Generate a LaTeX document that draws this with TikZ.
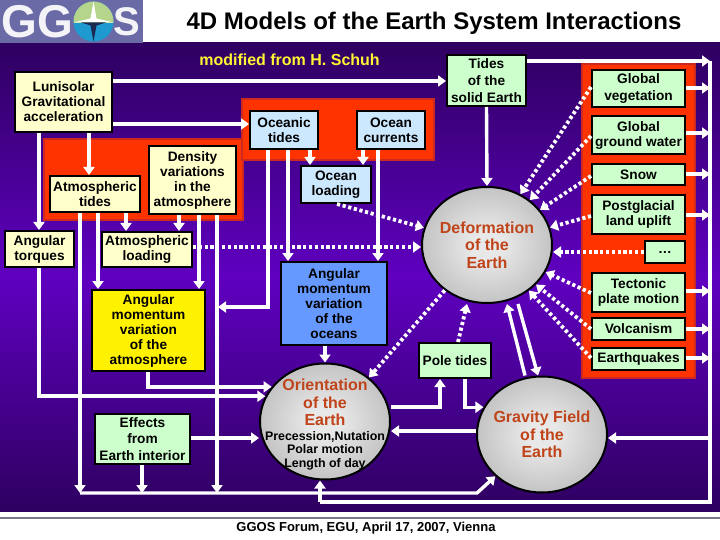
\documentclass[tikz,border=0pt]{standalone}
\usepackage{fontspec}
\setmainfont{Liberation Sans}
\usetikzlibrary{arrows.meta, shapes.geometric}
\definecolor{ggpurple}{HTML}{5F00C0}
\definecolor{ggdark}{HTML}{2E0060}
\definecolor{gglogo}{HTML}{6A6AA6}
\definecolor{ggred}{HTML}{FF3300}
\definecolor{ggrededge}{HTML}{CC2A20}
\definecolor{ggcream}{HTML}{FFFFCC}
\definecolor{ggsky}{HTML}{CCE8FF}
\definecolor{gggreen}{HTML}{CCFFCC}
\definecolor{ggblue}{HTML}{6699FF}
\definecolor{ggrust}{HTML}{C0441A}
\definecolor{ggrule}{HTML}{777788}
\definecolor{ggleaf}{HTML}{B5D48C}
\definecolor{ggsea}{HTML}{1E9AD0}
\definecolor{ggnavy}{HTML}{1A2A50}
\definecolor{ggcore}{HTML}{E8E8E8}
\definecolor{ggrim}{HTML}{949494}
\pgfdeclareradialshading{sphere}{\pgfpoint{0bp}{0bp}}{color(0bp)=(ggcore); color(6bp)=(ggcore); color(50bp)=(ggrim)}
\newcommand{\sublabel}[1]{{\color{black}\fontsize{12.4}{13.5}\selectfont #1}}

\begin{document}
\begin{tikzpicture}[
      x=1pt, y=-1pt,
      every node/.style={font=\fontsize{13.7}{15}\selectfont\bfseries},
      box/.style={draw=black, line width=2pt, inner sep=0pt, align=center},
      globe/.style={draw=black, line width=2pt, ellipse, inner sep=-30pt, align=center,
                    minimum width=130pt, minimum height=116pt, shading=sphere,
                    text=ggrust, font=\fontsize{16}{17.5}\selectfont\bfseries},
      redpanel/.style={fill=ggred, draw=ggrededge, line width=2pt},
      link/.style={draw=white, line width=3.4pt, ->},
      dotlink/.style={draw=white, line width=3.8pt, ->, dash pattern=on 3.2pt off 2.6pt},
      >={Triangle[length=8pt,width=11pt]},
    ]
    \useasboundingbox (0,0) rectangle (720,540);
    % background and header
    \fill[white] (0,0) rectangle (720,540);
    \shade[top color=ggdark, bottom color=ggdark, middle color=ggpurple]
      (0,43) rectangle (720,511);
    \draw[ggrule, line width=2pt] (0,518) -- (720,518);
    \fill[gglogo] (0,0) rectangle (143,43);
    \node[text=white!92!gglogo, font=\fontsize{46}{46}\selectfont\bfseries] (logoleft) at (37,22) {GG};
    \node[text=white!92!gglogo, font=\fontsize{40}{40}\selectfont\bfseries] (logoright) at (127,22) {S};
    \fill[ggsea] (93.5,21.5) circle [radius=20];
    \begin{scope}
      \clip (70,0) rectangle (116,22.5);
      \fill[ggleaf] (93.5,21.5) circle [radius=20];
    \end{scope}
    \fill[white] (93.5,1.5) -- (96.5,18.5) -- (113.5,22.5) -- (73.5,22.5) -- (90.5,18.5) -- cycle;
    \fill[ggnavy] (93.5,41.5) -- (96.5,25.5) -- (106,22.5) -- (81,22.5) -- (90.5,25.5) -- cycle;
    \node[font=\fontsize{24}{26}\selectfont\bfseries] (title) at (434,23)
      {4D Models of the Earth System Interactions};
    \node[text=yellow!80!white, font=\fontsize{16}{18}\selectfont\bfseries] (credit) at (289.5,60)
      {modified from H. Schuh};
    \node[font=\fontsize{13}{15}\selectfont\bfseries] (footer) at (366,528)
      {GGOS Forum, EGU, April 17, 2007, Vienna};

    % red panels
    \draw[redpanel] (44,139) rectangle (243,220);
    \draw[redpanel] (242,99) rectangle (434,160);
    \draw[redpanel] (582,64) rectangle (695,378);

    % boxes
    \node[box, fill=ggcream, minimum width=97pt, minimum height=60pt] (lunisolar) at (63.5,102)
      {Lunisolar\\Gravitational\\acceleration};
    \node[box, fill=ggcream, minimum width=90pt, minimum height=36pt] (atmtides) at (95,194)
      {Atmospheric\\tides};
    \node[box, fill=ggcream, minimum width=87pt, minimum height=68pt] (density) at (192.5,180)
      {Density\\variations\\in the\\atmosphere};
    \node[box, fill=ggcream, minimum width=69pt, minimum height=36pt] (torques) at (39.5,249)
      {Angular\\torques};
    \node[box, fill=ggcream, minimum width=90pt, minimum height=35pt] (atmloading) at (147,249.5)
      {Atmospheric\\loading};
    \node[box, fill=yellow, minimum width=113pt, minimum height=81pt] (atmmomentum) at (148.5,330.5)
      {Angular\\momentum\\variation\\of the\\atmosphere};
    \node[box, fill=ggsky, minimum width=68pt, minimum height=38pt] (oceanic) at (284,130)
      {Oceanic\\tides};
    \node[box, fill=ggsky, minimum width=68pt, minimum height=38pt] (currents) at (391,130)
      {Ocean\\currents};
    \node[box, fill=ggsky, minimum width=70pt, minimum height=37pt] (oceanloading) at (336,184.5)
      {Ocean\\loading};
    \node[box, fill=ggblue, minimum width=106pt, minimum height=83pt] (oceanmomentum) at (334,303.5)
      {Angular\\momentum\\variation\\of the\\oceans};
    \node[box, fill=gggreen, minimum width=95pt, minimum height=50pt] (interior) at (142.5,439)
      {Effects\\[1.5pt]from\\[1.5pt]Earth interior};
    \node[box, fill=gggreen, minimum width=79pt, minimum height=51pt] (solid) at (486.5,80.5)
      {Tides\\[2pt]of the\\[2pt]solid Earth};
    \node[box, fill=gggreen, minimum width=72pt, minimum height=35pt] (poletides) at (455,360.5)
      {Pole tides};
    \node[box, fill=gggreen, minimum width=93pt, minimum height=37pt] (vegetation) at (638.5,88.5)
      {Global\\[2pt]vegetation};
    \node[box, fill=gggreen, minimum width=93pt, minimum height=38pt] (groundwater) at (638.5,135)
      {Global\\ground water};
    \node[box, fill=gggreen, minimum width=93pt, minimum height=21pt] (snow) at (638.5,174.5)
      {Snow};
    \node[box, fill=gggreen, minimum width=93pt, minimum height=39pt] (uplift) at (638.5,214.5)
      {Postglacial\\land uplift};
    \node[box, fill=gggreen, minimum width=40pt, minimum height=22pt] (others) at (665,252)
      {\dots};
    \node[box, fill=gggreen, minimum width=93pt, minimum height=39pt] (tectonic) at (638.5,292.5)
      {Tectonic\\plate motion};
    \node[box, fill=gggreen, minimum width=93pt, minimum height=22pt] (volcanism) at (638.5,329)
      {Volcanism};
    \node[box, fill=gggreen, minimum width=93pt, minimum height=22pt] (quakes) at (638.5,359)
      {Earthquakes};

    % spheres
    \node[globe] (deformation) at (487,245) {Deformation\\of the\\Earth};
    \node[globe] (orientation) at (325,421.5)
      {\rule{0pt}{18pt}Orientation\\of the\\Earth\\[-3pt]\sublabel{Precession,Nutation}\\[-4pt]
       \sublabel{Polar motion}\\[-4pt]\sublabel{Length of day}};
    \node[globe] (gravity) at (542,434.5) {Gravity Field\\of the\\Earth};

    % bus ends
    \coordinate (busleft) at (80,493);
    \coordinate (busbend) at (477,493);
    \coordinate (railtop) at (710,61);
    \coordinate (railbottom) at (710,502);
    \coordinate (railstep) at (320,502);
    \coordinate (densityline) at (218,307);

    % connectors, left part
    \draw[link] (lunisolar.east |- 0,81) -- (solid.west |- 0,81);
    \draw[link] (lunisolar.east |- 0,124) -- (oceanic.west |- 0,124);
    \draw[link] (lunisolar.south -| 89,0) -- (atmtides.north -| 89,0);
    \draw[link] (lunisolar.south -| 39,0) -- (torques.north -| 39,0);
    \draw[link] (torques.south -| 39,0) |- (orientation.157);
    \draw[link] (atmtides.south -| 98,0) -- (atmmomentum.north -| 98,0);
    \draw[link] (atmtides.south -| 126,0) -- (atmloading.north -| 126,0);
    \draw[link] (atmtides.south -| 80,0) -- (busleft);
    \draw[link] (density.south -| 179,0) -- (atmloading.north -| 179,0);
    \draw[link] (density.south -| 199,0) -- (atmmomentum.north -| 199,0);
    \draw[link] (density.south -| 217,0) -- (busleft -| 217,0);
    \draw[link] (oceanic.south -| 268,0) |- (densityline);
    \draw[link] (oceanic.south -| 288,0) -- (oceanmomentum.north -| 288,0);
    \draw[link] (oceanic.south -| 310,0) -- (oceanloading.north -| 310,0);
    \draw[link] (currents.south -| 363,0) -- (oceanloading.north -| 363,0);
    \draw[link] (currents.south -| 378,0) -- (oceanmomentum.north -| 378,0);
    \draw[link] (atmmomentum.south -| 148,0) |- (orientation.147);
    \draw[link] (oceanmomentum.south -| 325,0) -- (orientation.north);
    \draw[link] (interior.east |- 0,438) -- (orientation.west |- 0,438);
    \draw[link] (interior.south -| 142,0) -- (busleft -| 142,0);
    \draw[link] (busleft) -- (busbend) -- (gravity.south west);

    % connectors, right part
    \draw[link] (solid.south) -- (deformation.north);
    \draw[link] (solid.east |- 0,61) -- (railtop);
    \draw[link, -] (railtop) -- (railbottom) -- (railstep);
    \draw[link] (railstep) -- (orientation.south -| 320,0);
    \draw[link] (railtop |- 0,438) -- (gravity.east |- 0,438);
    \foreach \source/\ypos in {vegetation/88, groundwater/133, snow/174, uplift/215,
                               tectonic/291, volcanism/329, quakes/358}
      \draw[link] (\source.east |- 0,\ypos) -- (railtop |- 0,\ypos);

    % dotted connectors into the deformation sphere
    \draw[dotlink] (oceanloading.south -| 337,0) -- (deformation);
    \draw[dotlink] (atmloading.east |- 0,247) -- (deformation.west |- 0,247);
    \foreach \source/\ypos in {vegetation/87, groundwater/136, snow/176, uplift/216,
                               tectonic/293, volcanism/329, quakes/358}
      \draw[dotlink] (\source.west |- 0,\ypos) -- (deformation);
    \draw[dotlink] (others.west) -- (deformation.east |- 0,252);
    \draw[dotlink] (poletides.north -| 458,0) -- (deformation.south -| 467,0);
    \draw[dotlink] (deformation.227) -- (orientation.45);

    % connectors between the spheres and pole tides
    \draw[link] (orientation.east |- 0,407) -| (poletides.south -| 440,0);
    \draw[link] (poletides.south -| 465,0) |- (gravity.155);
    \draw[link] (gravity.west |- 0,431) -- (orientation.east |- 0,431);
    \draw[link] (gravity.north -| 525,0) -- (deformation.south -| 507,0);
    \draw[link] (deformation.south -| 518,0) -- (gravity.north -| 538,0);
  \end{tikzpicture}
\end{document}
